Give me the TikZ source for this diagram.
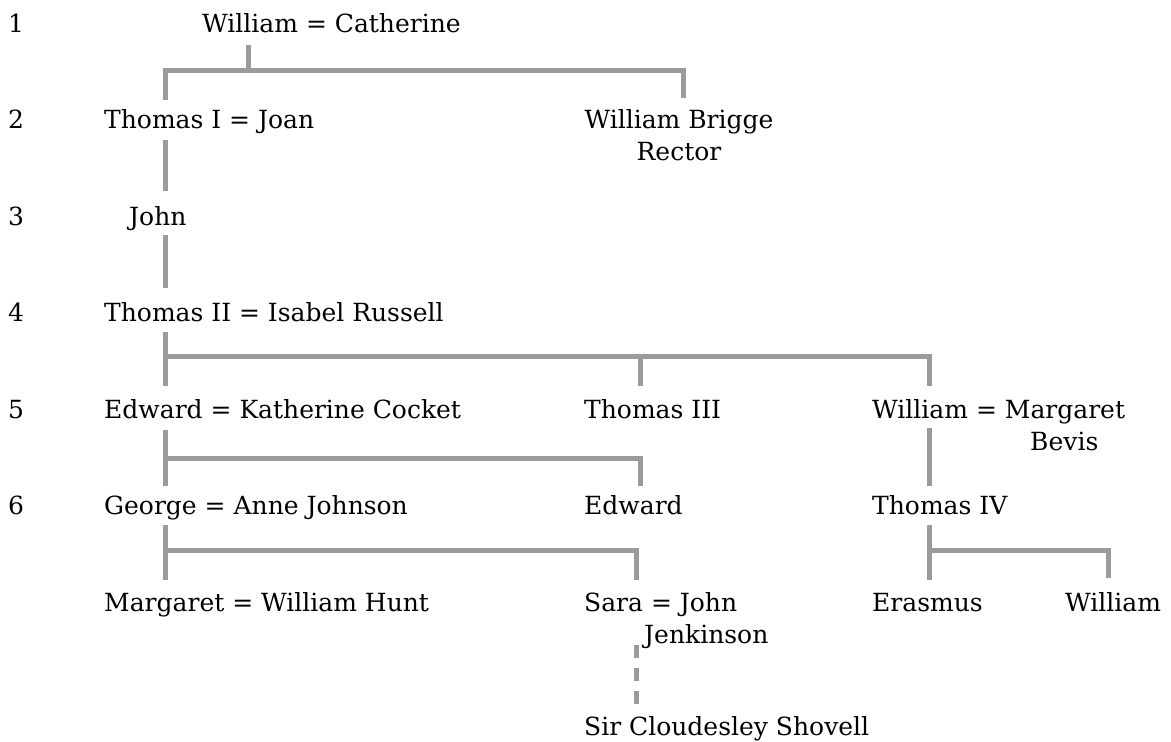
\documentclass[tikz,border=0pt]{standalone}
\usepackage{fontspec}
\setmainfont{DejaVu Serif}
\definecolor{linegray}{RGB}{155,155,155}
\begin{document}
\begin{tikzpicture}[x=1pt,y=-1pt,
  person/.style={anchor=base west,inner sep=0pt,font=\fontsize{25}{32}\selectfont},
  centred/.style={anchor=base,inner sep=0pt,font=\fontsize{25}{32}\selectfont},
  conn/.style={draw=linegray,line width=5pt,line join=miter,line cap=butt},
  dashconn/.style={conn,dash pattern=on 13pt off 10pt}]
\useasboundingbox (0,0) rectangle (1171,742);
% generation numbers
\node[person] (g1) at (8,32) {1};
\node[person] (g2) at (8,128) {2};
\node[person] (g3) at (8,225) {3};
\node[person] (g4) at (8,321) {4};
\node[person] (g5) at (8,418) {5};
\node[person] (g6) at (8,514) {6};
% people
\node[person] (wc) at (202,32) {William = Catherine};
\node[person] (tj) at (104,128) {Thomas I = Joan};
\node[centred] (wb) at (679,128) {William Brigge};
\node[centred] (wbr) at (679,160) {Rector};
\node[person] (jo) at (129,225) {John};
\node[person] (ti) at (104,321) {Thomas II = Isabel Russell};
\node[person] (ek) at (104,418) {Edward = Katherine Cocket};
\node[person] (t3) at (584,418) {Thomas III};
\node[person] (wm) at (872,418) {William = Margaret};
\node[person] (bv) at (1030,450) {Bevis};
\node[person] (ga) at (104,514) {George = Anne Johnson};
\node[person] (ed) at (584,514) {Edward};
\node[person] (t4) at (872,514) {Thomas IV};
\node[person] (mw) at (104,611) {Margaret = William Hunt};
\node[person] (sj) at (584,611) {Sara = John};
\node[person] (jk) at (644,643) {Jenkinson};
\node[person] (er) at (872,611) {Erasmus};
\node[person] (wi) at (1065,611) {William};
\node[person] (cs) at (584,735) {Sir Cloudesley Shovell};
% connector points
\coordinate (a0) at (248,45);  \coordinate (a1) at (248,70);
\coordinate (a2) at (165,70);  \coordinate (a3) at (683,70);
\coordinate (a4) at (165,100); \coordinate (a5) at (683,98);
\coordinate (b0) at (165,140); \coordinate (b1) at (165,191);
\coordinate (c0) at (165,235); \coordinate (c1) at (165,288);
\coordinate (d0) at (165,332); \coordinate (d1) at (165,386);
\coordinate (d2) at (165,356); \coordinate (d3) at (929,356);
\coordinate (d4) at (929,386); \coordinate (d5) at (640,356);
\coordinate (d6) at (640,386);
\coordinate (e0) at (165,430); \coordinate (e1) at (165,486);
\coordinate (e2) at (165,458); \coordinate (e3) at (640,458);
\coordinate (e4) at (640,486);
\coordinate (f0) at (929,428); \coordinate (f1) at (929,486);
\coordinate (h0) at (165,525); \coordinate (h1) at (165,580);
\coordinate (h2) at (165,550); \coordinate (h3) at (636,550);
\coordinate (h4) at (636,580);
\coordinate (k0) at (929,525); \coordinate (k1) at (929,580);
\coordinate (k2) at (929,550); \coordinate (k3) at (1108,550);
\coordinate (k4) at (1108,578);
\coordinate (m0) at (636,645); \coordinate (m1) at (636,706);
% connectors
\draw[conn] (a0) -- (a1);
\draw[conn] (a4) -- (a2) -- (a3) -- (a5);
\draw[conn] (b0) -- (b1);
\draw[conn] (c0) -- (c1);
\draw[conn] (d0) -- (d1);
\draw[conn] (d2) -- (d3) -- (d4);
\draw[conn] (d5) -- (d6);
\draw[conn] (e0) -- (e1);
\draw[conn] (e2) -- (e3) -- (e4);
\draw[conn] (f0) -- (f1);
\draw[conn] (h0) -- (h1);
\draw[conn] (h2) -- (h3) -- (h4);
\draw[conn] (k0) -- (k1);
\draw[conn] (k2) -- (k3) -- (k4);
\draw[dashconn] (m0) -- (m1);
\end{tikzpicture}
\end{document}
